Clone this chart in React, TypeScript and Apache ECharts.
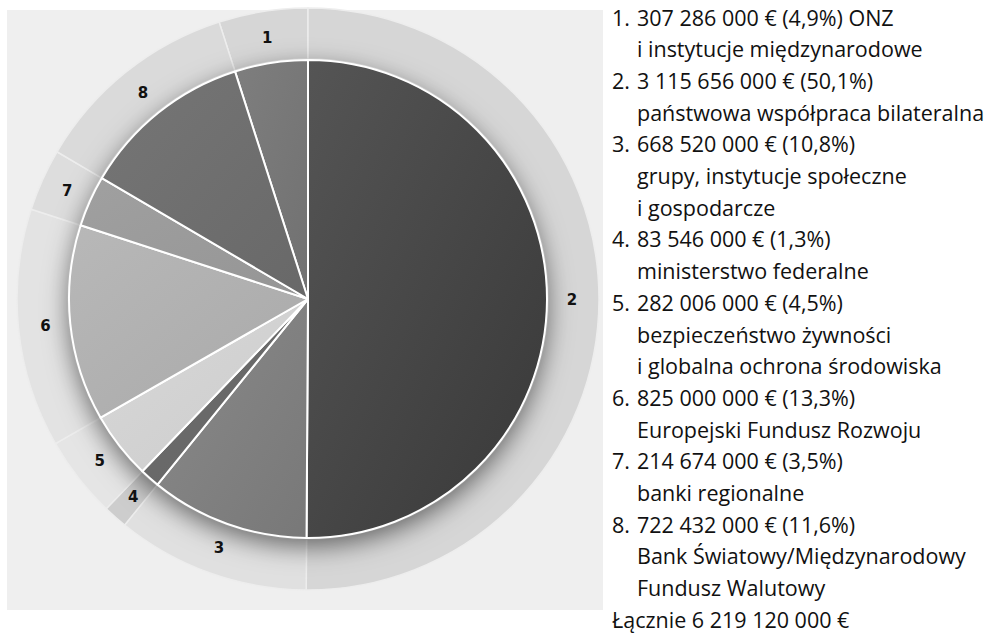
import React, { useEffect, useRef } from "react";
import * as echarts from "echarts";

// Funding by recipient group, items 1–8
const categories = ["1", "2", "3", "4", "5", "6", "7", "8"];
const amounts = [
  307286000, 3115656000, 668520000, 83546000, 282006000, 825000000, 214674000,
  722432000,
];
const shares = ["4,9", "50,1", "10,8", "1,3", "4,5", "13,3", "3,5", "11,6"];
const headNames = ["ONZ", "", "", "", "", "", "", ""];
const bodyNames = [
  ["i instytucje międzynarodowe"],
  ["państwowa współpraca bilateralna"],
  ["grupy, instytucje społeczne", "i gospodarcze"],
  ["ministerstwo federalne"],
  ["bezpieczeństwo żywności", "i globalna ochrona środowiska"],
  ["Europejski Fundusz Rozwoju"],
  ["banki regionalne"],
  ["Bank Światowy/Międzynarodowy", "Fundusz Walutowy"],
];
const totalCaption = "Łącznie";

// Slice shades (light, dark) and outer ring shades
const sliceShades = [
  ["#7e7e7e", "#717171"],
  ["#555555", "#383838"],
  ["#8a8a8a", "#787878"],
  ["#6e6e6e", "#646464"],
  ["#d8d8d8", "#cccccc"],
  ["#b8b8b8", "#a9a9a9"],
  ["#a0a0a0", "#959595"],
  ["#767676", "#686868"],
];
const ringShades = [
  "#d6d6d6",
  "#d6d6d6",
  "#e0e0e0",
  "#cdcdcd",
  "#e5e5e5",
  "#e3e3e3",
  "#dddddd",
  "#dadada",
];

const fmt = (n: number) => String(n).replace(/\B(?=(\d{3})+(?!\d))/g, " ");

export default function App() {
  const ref = useRef<HTMLDivElement>(null);

  useEffect(() => {
    document.body.style.margin = "0";
    const chart = echarts.init(ref.current!, null, { renderer: "svg" });

    const total = amounts.reduce((a, b) => a + b, 0);
    const startAngle = 90 + (360 * amounts[0]) / total;
    const center = [308, 299];

    const sliceData = categories.map((c, i) => ({
      name: c,
      value: amounts[i],
      itemStyle: {
        color: new echarts.graphic.LinearGradient(0, 0, 1, 1, [
          { offset: 0, color: sliceShades[i][0] },
          { offset: 1, color: sliceShades[i][1] },
        ]),
      },
    }));
    const ringData = categories.map((c, i) => ({
      name: c,
      value: amounts[i],
      itemStyle: { color: ringShades[i] },
    }));
    const labelData = categories.map((c, i) => ({ name: c, value: amounts[i] }));

    // Legend text on the right
    const lineH = 31.7;
    const top = 17;
    const numX = 612;
    const textX = 637;
    const font = {
      fontFamily: "Open Sans",
      fontSize: 21.5,
      fill: "#111",
      textVerticalAlign: "middle" as const,
    };
    const texts: any[] = [];
    let line = 0;
    categories.forEach((c, i) => {
      const y = top + line * lineH;
      texts.push({ type: "text", x: numX, y, style: { ...font, text: c + "." } });
      const head =
        fmt(amounts[i]) +
        " € (" +
        shares[i] +
        "%)" +
        (headNames[i] ? " " + headNames[i] : "");
      texts.push({ type: "text", x: textX, y, style: { ...font, text: head } });
      line++;
      bodyNames[i].forEach((t) => {
        texts.push({
          type: "text",
          x: textX,
          y: top + line * lineH,
          style: { ...font, text: t },
        });
        line++;
      });
    });
    texts.push({
      type: "text",
      x: numX,
      y: top + line * lineH,
      style: { ...font, text: totalCaption + " " + fmt(total) + " €" },
    });

    chart.setOption({
      animation: false,
      graphic: [
        {
          type: "rect",
          z: -10,
          shape: { x: 7, y: 10, width: 596, height: 600 },
          style: { fill: "#efefef" },
          silent: true,
        },
        ...texts,
      ],
      series: [
        {
          type: "pie",
          center,
          radius: [240, 291],
          startAngle,
          clockwise: true,
          silent: true,
          data: ringData,
          itemStyle: { borderColor: "#ededed", borderWidth: 1.5 },
          label: { show: false },
          labelLine: { show: false },
        },
        {
          // number labels sitting in the outer ring
          type: "pie",
          center,
          radius: [240, 282],
          startAngle,
          clockwise: true,
          silent: true,
          data: labelData,
          itemStyle: { color: "rgba(0,0,0,0)" },
          label: {
            position: "inside",
            formatter: "{b}",
            fontFamily: "DejaVu Sans",
            fontWeight: "bold",
            fontSize: 15,
            color: "#111",
          },
          labelLine: { show: false },
        },
        {
          type: "pie",
          center,
          radius: [0, 239],
          silent: true,
          data: [{ value: 1, name: "" }],
          itemStyle: {
            color: "#666",
            shadowBlur: 26,
            shadowOffsetY: 8,
            shadowColor: "rgba(0,0,0,0.55)",
          },
          label: { show: false },
          labelLine: { show: false },
        },
        {
          type: "pie",
          center,
          radius: [0, 239],
          startAngle,
          clockwise: true,
          silent: true,
          data: sliceData,
          itemStyle: { borderColor: "#ffffff", borderWidth: 2 },
          label: { show: false },
          labelLine: { show: false },
        },
      ],
    });

    return () => chart.dispose();
  }, []);

  return (
    <div
      ref={ref}
      style={{ position: "absolute", left: 0, top: 0, width: 993, height: 636 }}
    />
  );
}
